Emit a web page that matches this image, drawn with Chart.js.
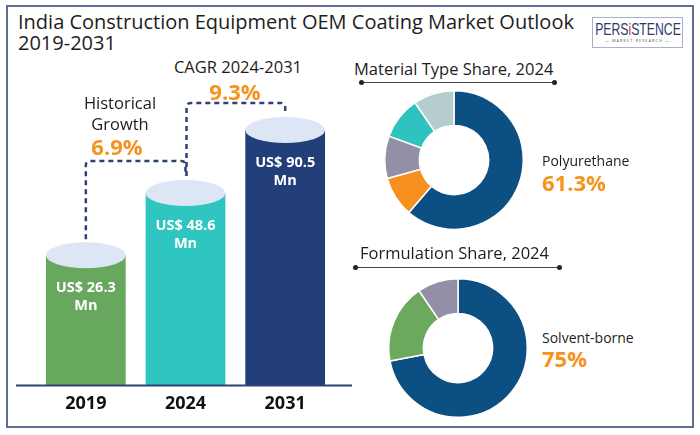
<!DOCTYPE html>
<html>
<head>
<meta charset="utf-8">
<title>India Construction Equipment OEM Coating Market Outlook</title>
<script src="https://cdn.jsdelivr.net/npm/chart.js@4.4.1/dist/chart.umd.min.js"></script>
<style>
  html, body { margin: 0; padding: 0; background: #fff; }
  body { width: 700px; height: 435px; position: relative; overflow: hidden; font-family: 'Open Sans', sans-serif; color: #1d1d1d; }
  .frame { position: absolute; left: 6px; top: 5px; width: 684px; height: 419px; border: 2px solid #5f6d95; }
  .abs { position: absolute; white-space: nowrap; line-height: 1; }
  .c { transform: translate(-50%, -50%); text-align: center; }
  .l { transform: translateY(-50%); }
  .orange { color: #f7921e; font-weight: 700; }
  canvas { position: absolute; }
  .rule { position: absolute; height: 0; border-top: 1px solid #444; }
  .rule::before, .rule::after { content: ''; position: absolute; top: -3px; width: 5px; height: 5px; border-radius: 50%; background: #222; }
  .rule::before { left: -2px; }
  .rule::after { right: -2px; }
  .logo { position: absolute; left: 592px; top: 17px; width: 89px; height: 29px; border: 1px solid #a9b0c8; }
  .logo .name { position: absolute; left: 50%; top: 3px; white-space: nowrap; line-height: 1; font-family: 'Liberation Sans', sans-serif; font-size: 17px; color: #2b3a6b; transform: translateX(-50%) scaleX(0.72); }
  .logo .name span { color: #d8262f; }
  .logo .sub { position: absolute; left: 0; top: 21px; width: 100%; text-align: center; font-size: 4px; color: #555; letter-spacing: 1px; line-height: 1; }
</style>
</head>
<body>
<div class="frame"></div>

<div class="abs l" style="left:18px; top:22px; font-size:20px;">India Construction Equipment OEM Coating Market Outlook</div>
<div class="abs l" style="left:18px; top:43px; font-size:20px;">2019-2031</div>

<div class="logo">
  <div class="name">PERS<span>i</span>STENCE</div>
  <div class="sub">— MARKET RESEARCH —</div>
</div>

<canvas id="barChart" width="360" height="340" style="left:0; top:90px;"></canvas>

<div class="abs c" style="left:238px; top:67px; font-size:16.5px;">CAGR 2024-2031</div>
<div class="abs c orange" style="left:235px; top:91px; font-size:22px;">9.3%</div>
<div class="abs c" style="left:120px; top:103px; font-size:16.5px;">Historical</div>
<div class="abs c" style="left:120px; top:124px; font-size:16.5px;">Growth</div>
<div class="abs c orange" style="left:117px; top:146px; font-size:22px;">6.9%</div>

<div class="abs l" style="left:354px; top:69px; font-size:16.5px;">Material Type Share, 2024</div>
<div class="rule" style="left:361px; top:82px; width:194px;"></div>
<canvas id="materialChart" width="140" height="140" style="left:384px; top:90px;"></canvas>
<div class="abs l" style="left:542px; top:161px; font-size:14px;">Polyurethane</div>
<div class="abs l orange" style="left:542px; top:182px; font-size:22px;">61.3%</div>

<div class="abs l" style="left:360px; top:253px; font-size:16.5px;">Formulation Share, 2024</div>
<div class="rule" style="left:355px; top:267px; width:205px;"></div>
<canvas id="formulationChart" width="140" height="140" style="left:388px; top:278px;"></canvas>
<div class="abs l" style="left:542px; top:338px; font-size:14px;">Solvent-borne</div>
<div class="abs l orange" style="left:542px; top:358px; font-size:22px;">75%</div>

<script>
// Data
const years = ['2019', '2024', '2031'];
const marketSize = [26.3, 48.6, 90.5];

const materialTypes = ['Polyurethane', 'Type 2', 'Type 3', 'Type 4', 'Type 5'];
const materialShare = [61.3, 9.4, 9.9, 9.9, 9.5];

const formulations = ['Solvent-borne', 'Type 2', 'Type 3'];
const formulationShare = [72, 18.5, 9.5];

// Colours
const barColors = ['#68a75e', '#2fc6c1', '#233f79'];
const capColor = '#dce6f5';
const materialColors = ['#0c4f83', '#f7901e', '#948fa6', '#2fc3c0', '#b5cdcd'];
const formulationColors = ['#0c4f83', '#6aa95e', '#948fa6'];

Chart.defaults.font.family = "'Open Sans', sans-serif";

// Rounded dashed connector through a list of points
function dashedPath(ctx, pts, r) {
    ctx.beginPath();
    ctx.moveTo(pts[0][0], pts[0][1]);
    for (let i = 1; i < pts.length - 1; i++) {
        ctx.arcTo(pts[i][0], pts[i][1], pts[i + 1][0], pts[i + 1][1], r);
    }
    ctx.lineTo(pts[pts.length - 1][0], pts[pts.length - 1][1]);
    ctx.stroke();
}

// Cylinder caps, value labels, baseline and CAGR connectors
const cylinderPlugin = {
    id: 'cylinder',
    afterDatasetsDraw(chart) {
        const ctx = chart.ctx;
        const area = chart.chartArea;
        const bars = chart.getDatasetMeta(0).data;
        const ry = 13;
        ctx.save();

        ctx.strokeStyle = '#2f4275';
        ctx.lineWidth = 2;
        ctx.beginPath();
        ctx.moveTo(16, area.bottom);
        ctx.lineTo(352, area.bottom);
        ctx.stroke();

        bars.forEach((bar, i) => {
            ctx.fillStyle = capColor;
            ctx.beginPath();
            ctx.ellipse(bar.x, bar.y, bar.width / 2, ry, 0, 0, Math.PI * 2);
            ctx.fill();

            ctx.fillStyle = '#fff';
            ctx.font = "bold 14.5px 'Open Sans'";
            ctx.textAlign = 'center';
            ctx.textBaseline = 'middle';
            ctx.fillText('US$ ' + marketSize[i].toFixed(1), bar.x, bar.y + 33);
            ctx.fillText('Mn', bar.x, bar.y + 51);
        });

        ctx.strokeStyle = '#2d4272';
        ctx.lineWidth = 2.5;
        ctx.setLineDash([5, 4]);
        const [b0, b1, b2] = bars;
        dashedPath(ctx, [[b0.x, b0.y - ry - 3], [b0.x, 71], [b1.x, 71], [b1.x, b1.y - ry - 4]], 4);
        dashedPath(ctx, [[b1.x + 1, b1.y - ry - 4], [b1.x + 1, 13], [b2.x, 13], [b2.x, b2.y - ry - 2]], 4);
        ctx.restore();
    }
};

new Chart(document.getElementById('barChart'), {
    type: 'bar',
    data: {
        labels: years,
        datasets: [{
            data: marketSize,
            backgroundColor: barColors,
            borderWidth: 0,
            barPercentage: 0.8,
            categoryPercentage: 1.0
        }]
    },
    options: {
        responsive: false,
        animation: false,
        events: [],
        layout: { padding: { top: 10, bottom: 7, left: 36, right: 25 } },
        plugins: { legend: { display: false }, tooltip: { enabled: false } },
        scales: {
            x: {
                grid: { display: false, drawTicks: false },
                border: { display: false },
                ticks: { color: '#111', padding: 8, font: { size: 18, weight: 'bold' } }
            },
            y: {
                type: 'logarithmic',
                bounds: 'data',
                min: 7.29,
                max: 121.7,
                display: false
            }
        }
    },
    plugins: [cylinderPlugin]
});

function doughnut(id, labels, values, colors) {
    return new Chart(document.getElementById(id), {
        type: 'doughnut',
        data: {
            labels: labels,
            datasets: [{
                data: values,
                backgroundColor: colors,
                borderColor: '#fff',
                borderWidth: 1.5
            }]
        },
        options: {
            responsive: false,
            animation: false,
            events: [],
            cutout: '50%',
            plugins: { legend: { display: false }, tooltip: { enabled: false } }
        }
    });
}

doughnut('materialChart', materialTypes, materialShare, materialColors);
doughnut('formulationChart', formulations, formulationShare, formulationColors);
</script>
</body>
</html>
